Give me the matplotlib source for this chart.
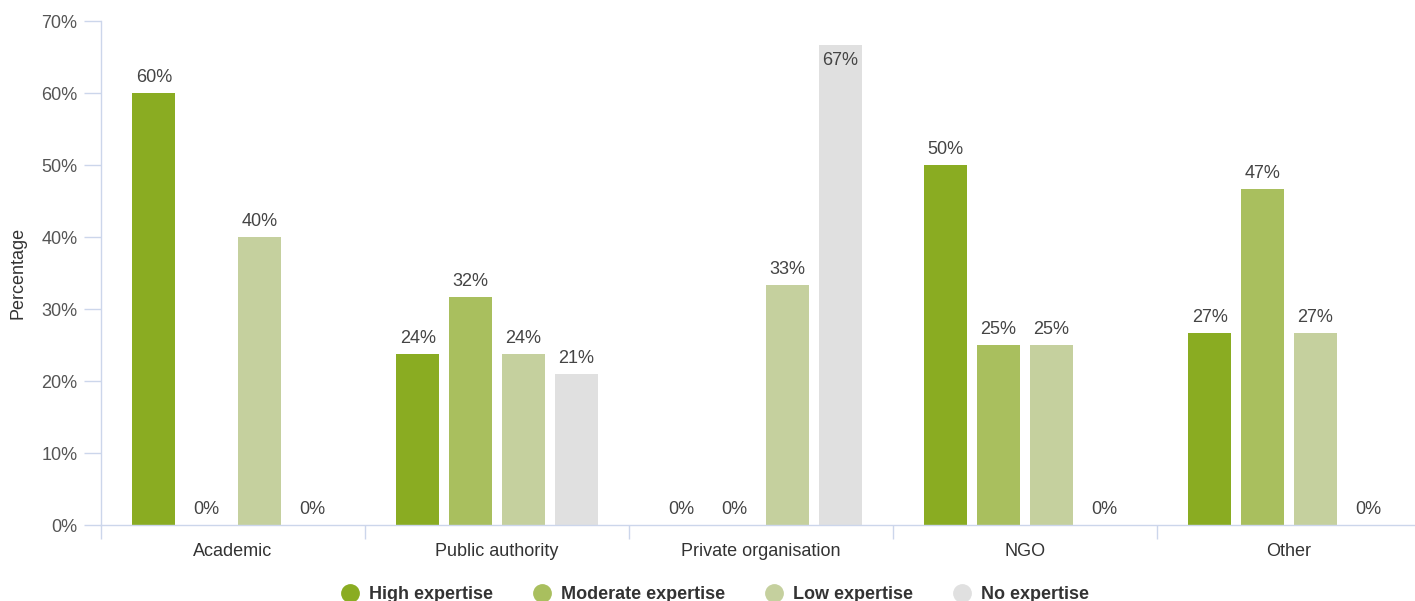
#!/usr/bin/env python

import numpy as np
import matplotlib.pyplot as plt
from matplotlib.lines import Line2D
from matplotlib.ticker import MultipleLocator, FuncFormatter


CATEGORIES = ["Academic", "Public authority", "Private organisation", "NGO", "Other"]
SERIES = ["High expertise", "Moderate expertise", "Low expertise", "No expertise"]

HIGH = [60.0, 23.7, 0.0, 50.0, 26.7]
MODERATE = [0.0, 31.6, 0.0, 25.0, 46.7]
LOW = [40.0, 23.7, 33.3, 25.0, 26.7]
NONE = [0.0, 21.0, 66.7, 0.0, 0.0]

COLORS = ["#8aac22", "#a9bf5e", "#c5d09e", "#e0e0e0"]
AXIS_COLOR = "#ccd6eb"
TEXT_COLOR = "#555555"

plt.rcParams["font.family"] = ["Liberation Sans", "DejaVu Sans"]


def main():
    fig = plt.figure(figsize=(14.15, 6.01), dpi=100, facecolor="white")
    ax = fig.add_axes([101 / 1415, 1 - 525 / 601, 1320 / 1415, 504 / 601])

    x = np.arange(len(CATEGORIES))
    width = 0.163
    step = 0.2
    values = [HIGH, MODERATE, LOW, NONE]
    for i, (vals, color) in enumerate(zip(values, COLORS)):
        pos = x + (i - 1.5) * step
        ax.bar(pos, vals, width=width, color=color, zorder=2)
        for px, v in zip(pos, vals):
            label = f"{v:.0f}%"
            if v > 64:
                ax.text(px, v - 1.0, label, ha="center", va="top",
                        fontsize=13, color="#444444")
            else:
                ax.text(px, v + 1.0, label, ha="center", va="bottom",
                        fontsize=13, color="#444444")

    ax.set_xlim(-0.5, len(CATEGORIES) - 0.5)
    ax.set_ylim(0, 70)
    ax.yaxis.set_major_locator(MultipleLocator(10))
    ax.yaxis.set_major_formatter(FuncFormatter(lambda v, _: f"{v:.0f}%"))

    ax.set_xticks(x)
    ax.set_xticklabels(CATEGORIES, fontsize=13, color="#333333")
    ax.set_xticks(np.arange(-0.5, len(CATEGORIES)), minor=True)
    ax.tick_params(axis="x", which="major", length=0, pad=13)
    ax.tick_params(axis="x", which="minor", length=10, color=AXIS_COLOR, width=1)
    ax.tick_params(axis="y", length=12, color=AXIS_COLOR, width=1,
                   labelsize=13, labelcolor=TEXT_COLOR, pad=5)

    for side in ["top", "right"]:
        ax.spines[side].set_visible(False)
    for side in ["left", "bottom"]:
        ax.spines[side].set_color(AXIS_COLOR)
        ax.spines[side].set_linewidth(1)

    ax.set_ylabel("Percentage", fontsize=13, color="#333333")
    ax.yaxis.set_label_coords(-0.063, 0.5)
    ax.yaxis.label.set_va("center")

    handles = [Line2D([0], [0], marker="o", linestyle="", markersize=12.5,
                      markerfacecolor=c, markeredgecolor=c) for c in COLORS]
    fig.legend(handles, SERIES, loc="center", bbox_to_anchor=(0.504, 0.01),
               ncol=4, frameon=False, handletextpad=0.35, columnspacing=2.0,
               handlelength=1.4,
               prop={"family": ["Liberation Sans Narrow", "Liberation Sans"],
                     "weight": "bold", "size": 13},
               labelcolor="#333333")

    fig.savefig("out.png", dpi=100, facecolor="white")


if __name__ == "__main__":
    main()
